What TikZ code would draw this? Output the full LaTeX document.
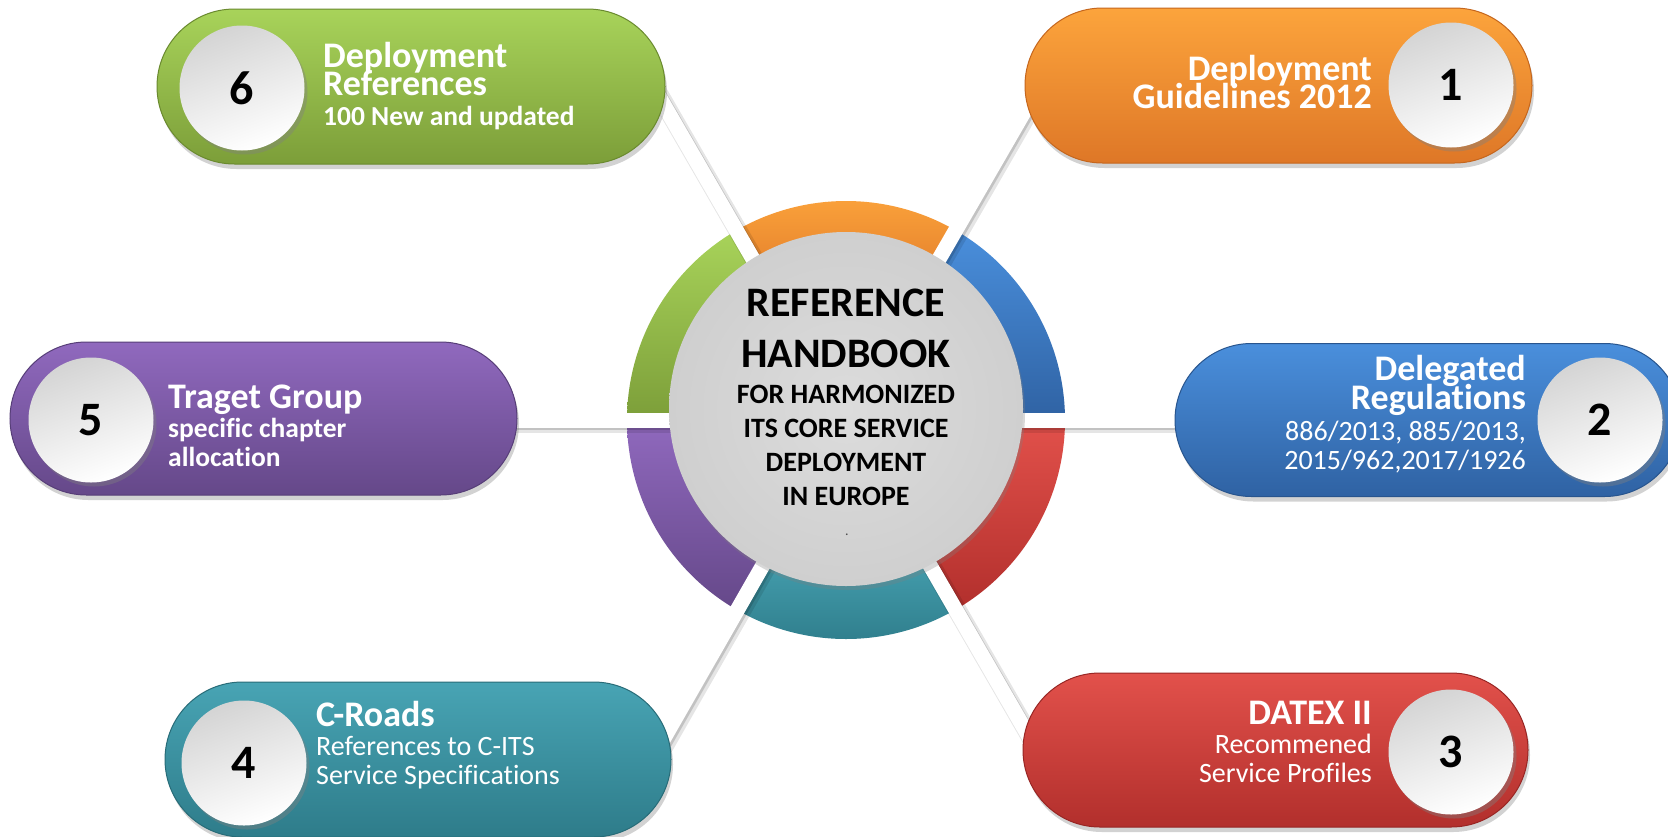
\documentclass[tikz,border=0pt]{standalone}
\usepackage{fontspec}
\setmainfont{Carlito}[Ligatures={NoCommon}]
\usetikzlibrary{shapes.misc,shadows,calc}
\definecolor{grnT}{HTML}{A8D35A}\definecolor{grnB}{HTML}{7C9E39}\definecolor{grnD}{HTML}{6A8A2F}
\definecolor{orgT}{HTML}{FCA43C}\definecolor{orgB}{HTML}{DE7727}\definecolor{orgD}{HTML}{C5661D}
\definecolor{bluT}{HTML}{4A8FDC}\definecolor{bluB}{HTML}{2F62A3}\definecolor{bluD}{HTML}{28558E}
\definecolor{redT}{HTML}{E2514B}\definecolor{redB}{HTML}{B22F2C}\definecolor{redD}{HTML}{982624}
\definecolor{tealT}{HTML}{48A4B4}\definecolor{tealB}{HTML}{2E7C8A}\definecolor{tealD}{HTML}{286C78}
\definecolor{purT}{HTML}{9069BE}\definecolor{purB}{HTML}{654889}\definecolor{purD}{HTML}{573E78}
\definecolor{hubIn}{HTML}{DCDCDC}\definecolor{hubOut}{HTML}{CFCFCF}
\definecolor{numT}{HTML}{D4D4D4}
\begin{document}
\begin{tikzpicture}[x=1pt,y=-1pt,
  pill/.style={shape=rounded rectangle, inner sep=0pt, minimum height=155pt, line width=1pt,
    drop shadow={shadow xshift=2pt, shadow yshift=-5pt, opacity=0.35}},
  numc/.style={circle, inner sep=0pt, minimum size=125pt, top color=numT, bottom color=white,
    shading angle=20, font=\bfseries\fontsize{48}{48}\selectfont, text=black,
    drop shadow={shadow xshift=3pt, shadow yshift=-4pt, opacity=0.4}},
  hd/.style={inner sep=0pt, text=white, text depth=0pt, font=\bfseries\fontsize{36}{36}\selectfont},
  sb/.style={inner sep=0pt, text=white, font=\bfseries\fontsize{27.5}{28}\selectfont},
  sr/.style={inner sep=0pt, text=white, font=\fontsize{28}{28}\selectfont},
  ch/.style={inner sep=0pt, text=black, anchor=base, font=\bfseries\fontsize{42}{42}\selectfont},
  cs/.style={inner sep=0pt, text=black, anchor=base, font=\bfseries\fontsize{28}{28}\selectfont},
  connshadow/.style={line width=19pt, black, opacity=0.10, transform canvas={xshift=3pt,yshift=-3pt}},
  connshadowb/.style={line width=15pt, black, opacity=0.15, transform canvas={xshift=2pt,yshift=-2pt}},
  conn/.style={line width=15pt, white}
]
\useasboundingbox (0,0) rectangle (1668,836);
\clip (0,0) rectangle (1668,836);
\fill[white] (0,0) rectangle (1668,836);

\coordinate (c) at (846,420);

% ring segments
\foreach \a/\b/\col in {0/60/blu,60/120/org,120/180/grn,180/240/pur,240/300/teal,300/360/red}{
  \shade[top color=\col T, bottom color=\col B]
    ([shift={(\a:219pt)}]c) arc[start angle=\a, end angle=\b, radius=219pt]
    -- ([shift={(\b:140pt)}]c) arc[start angle=\b, end angle=\a, radius=140pt] -- cycle;
}

% connector ends
\coordinate (e1) at (1046,74);
\coordinate (e2) at (1215,420);
\coordinate (e3) at (1046,766);
\coordinate (e4) at (640,780);
\coordinate (e5) at (480,420);
\coordinate (e6) at (646,74);

\foreach \e in {e1,e2,e3,e4,e5,e6}{
  \draw[connshadow] (c) -- (\e);
  \draw[connshadowb] (c) -- (\e);
}
\foreach \e in {e1,e2,e3,e4,e5,e6}{
  \draw[conn] (c) -- (\e);
}

% hub
\node[circle, minimum size=354pt, inner sep=0pt, inner color=hubIn, outer color=hubOut,
  drop shadow={shadow xshift=2pt, shadow yshift=-4pt, opacity=0.3}] (hub) at (846,409) {};

% pills
\node[pill, minimum width=508pt, top color=grnT, bottom color=grnB, draw=grnD] (p6) at (411,86.5) {};
\node[pill, minimum width=507pt, top color=orgT, bottom color=orgB, draw=orgD] (p1) at (1278.5,85.5) {};
\node[pill, minimum width=507pt, minimum height=153pt, top color=purT, bottom color=purB, draw=purD] (p5) at (263.5,418.5) {};
\node[pill, minimum width=506pt, minimum height=153pt, top color=bluT, bottom color=bluB, draw=bluD] (p2) at (1428,420) {};
\node[pill, minimum width=506pt, top color=tealT, bottom color=tealB, draw=tealD] (p4) at (418,759.5) {};
\node[pill, minimum width=505pt, minimum height=154pt, top color=redT, bottom color=redB, draw=redD] (p3) at (1275.5,750) {};

% number circles
\node[numc] (n6) at (242,88) {6};
\node[numc] (n1) at (1451,85) {1};
\node[numc] (n5) at (91,420) {5};
\node[numc] (n2) at (1600,420) {2};
\node[numc] (n4) at (244,763) {4};
\node[numc] (n3) at (1451,752) {3};

% texts pill 6
\node[hd, anchor=base west] (t6a) at (323,67) {Deployment};
\node[hd, anchor=base west] (t6b) at (323,95) {References};
\node[sb, anchor=base west] (t6c) at (323,125) {100 New and updated};
% pill 1
\node[hd, anchor=base east] (t1a) at (1372,80) {Deployment};
\node[hd, anchor=base east] (t1b) at (1372,108) {Guidelines 2012};
% pill 5
\node[hd, anchor=base west] (t5a) at (168,408) {Traget Group};
\node[sb, anchor=base west] (t5b) at (168,437) {specific chapter};
\node[sb, anchor=base west] (t5c) at (168,466) {allocation};
% pill 2
\node[hd, anchor=base east] (t2a) at (1526,380) {Delegated};
\node[hd, anchor=base east] (t2b) at (1526,409) {Regulations};
\node[sr, anchor=base east] (t2c) at (1526,440) {886/2013, 885/2013,};
\node[sr, anchor=base east] (t2d) at (1526,469) {2015/962,2017/1926};
% pill 4
\node[hd, anchor=base west] (t4a) at (316,726) {C-Roads};
\node[sr, anchor=base west] (t4b) at (316,755) {References to C-ITS};
\node[sr, anchor=base west] (t4c) at (316,784) {Service Specifications};
% pill 3
\node[hd, anchor=base east] (t3a) at (1372,724) {DATEX II};
\node[sr, anchor=base east] (t3b) at (1372,753) {Recommened};
\node[sr, anchor=base east] (t3c) at (1372,782) {Service Profiles};

% center text
\node[ch] (h1) at (846,316) {REFERENCE};
\node[ch] (h2) at (846,367) {HANDBOOK};
\node[cs] (h3) at (846,403) {FOR HARMONIZED};
\node[cs] (h4) at (846,437) {ITS CORE SERVICE};
\node[cs] (h5) at (846,471) {DEPLOYMENT};
\node[cs] (h6) at (846,505) {IN EUROPE};
\node[inner sep=0pt, anchor=base, text=black!70, font=\fontsize{14}{14}\selectfont] (h7) at (847,535) {.};
\end{tikzpicture}
\end{document}
